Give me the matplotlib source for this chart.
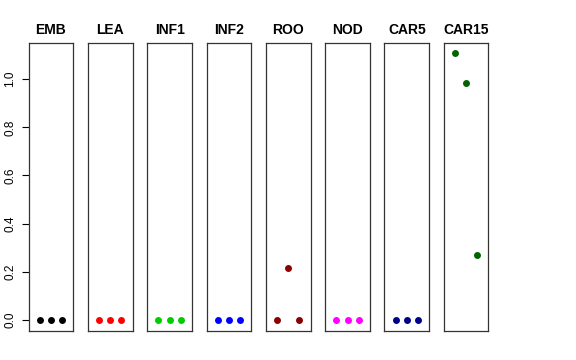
import matplotlib
matplotlib.use("Agg")
import matplotlib.pyplot as plt

panels = ["EMB", "LEA", "INF1", "INF2", "ROO", "NOD", "CAR5", "CAR15"]
colors = ["#000000", "#FF0000", "#00CD00", "#0000FF", "#8B0000", "#FF00FF", "#00008B", "#006400"]
x_pos = [1, 2, 3]
values = {
    "EMB": [0.0, 0.0, 0.0],
    "LEA": [0.0, 0.0, 0.0],
    "INF1": [0.0, 0.0, 0.0],
    "INF2": [0.0, 0.0, 0.0],
    "ROO": [0.0, 0.216, 0.0],
    "NOD": [0.0, 0.0, 0.0],
    "CAR5": [0.0, 0.0, 0.0],
    "CAR15": [1.107, 0.986, 0.268],
}
yticks = [0.0, 0.2, 0.4, 0.6, 0.8, 1.0]

plt.rcParams['font.family'] = ['Liberation Sans', 'DejaVu Sans']
fig = plt.figure(figsize=(5.76, 3.6), dpi=100)

W, H = 576.0, 360.0
ymax = max(max(v) for v in values.values())
ylo, yhi = -0.04 * ymax, ymax * 1.04

for i, name in enumerate(panels):
    left = (28.7 + i * 59.3) / W
    ax = fig.add_axes([left, 29.3 / H, 44.6 / W, 288.0 / H])
    ax.plot(x_pos, values[name], 'o', color=colors[i], markersize=5, markeredgewidth=0)
    ax.set_xlim(0, 4)
    ax.set_ylim(ylo, yhi)
    ax.set_xticks([])
    ax.set_title(name, fontsize=10, fontweight='bold', pad=6)
    for s in ax.spines.values():
        s.set_linewidth(0.9)
        s.set_color('#333333')
    if i == 0:
        ax.set_yticks(yticks)
        ax.set_yticklabels([f"{t:.1f}" for t in yticks], rotation=90, va='center', fontsize=8.5)
        ax.tick_params(axis='y', length=5, width=0.8, pad=4)
    else:
        ax.set_yticks([])

fig.savefig("out.png", dpi=100)
